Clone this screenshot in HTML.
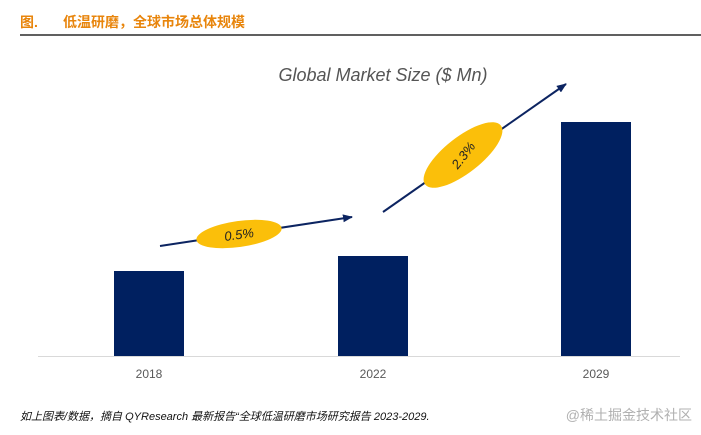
<!DOCTYPE html>
<html><head><meta charset="utf-8"><style>
body{margin:0;background:#fff;width:701px;height:430px;overflow:hidden;font-family:"Liberation Sans","Noto Sans CJK SC",sans-serif}
</style></head><body>
<svg width="701" height="430">
<text x="20" y="27" font-size="14" font-weight="bold" fill="#e8850c" font-family="Liberation Sans,Noto Sans CJK SC,sans-serif">图.</text>
<text x="63" y="27" font-size="14" font-weight="bold" fill="#e8850c" font-family="Liberation Sans,Noto Sans CJK SC,sans-serif">低温研磨，全球市场总体规模</text>
<line x1="20" y1="35" x2="701" y2="35" stroke="#000" stroke-width="1.2"/>
<text x="383" y="81" text-anchor="middle" font-size="18" fill="#555" font-style="italic" font-family="Liberation Sans,sans-serif">Global Market Size ($ Mn)</text>
<g id="bars"></g>
<line x1="38" y1="356.5" x2="680" y2="356.5" stroke="#d9d9d9"/>
<defs><marker id="ah" markerWidth="10" markerHeight="8" refX="9" refY="4" orient="auto" markerUnits="userSpaceOnUse"><path d="M0,0 L10,4 L0,8 Z" fill="#0c2461"/></marker></defs>
<line x1="160" y1="246" x2="352" y2="217" stroke="#0c2461" stroke-width="2" marker-end="url(#ah)"/>
<line x1="383" y1="212" x2="566" y2="84" stroke="#0c2461" stroke-width="2" marker-end="url(#ah)"/>
<ellipse cx="239" cy="234" rx="43" ry="13" transform="rotate(-8 239 234)" fill="#fbbf0a"/>
<text x="239" y="239" text-anchor="middle" font-size="13" fill="#222" font-style="italic" transform="rotate(-8 239 234)">0.5%</text>
<ellipse cx="463" cy="155" rx="48" ry="18" transform="rotate(-38 463 155)" fill="#fbbf0a"/>
<text x="463" y="160" text-anchor="middle" font-size="13" fill="#222" font-style="italic" transform="rotate(-52 463 155)">2.3%</text>
<text x="20" y="420" font-size="11" font-style="italic" fill="#111" font-family="Liberation Sans,Noto Sans CJK SC,sans-serif">如上图表/数据，摘自 QYResearch 最新报告“全球低温研磨市场研究报告 2023-2029.</text>
<text x="692" y="420" text-anchor="end" font-size="14" fill="#b0b0b0" font-family="Liberation Sans,Noto Sans CJK SC,sans-serif">@稀土掘金技术社区</text>
</svg>
<script>
const categories=["2018","2022","2029"];
const values=[85,100,234];
const ns="http://www.w3.org/2000/svg";
const g=document.getElementById("bars");
const centers=[149,373,596], base=356, scale=1, bw=70;
function y(v){return base-v*scale;}
categories.forEach((c,i)=>{
 const r=document.createElementNS(ns,"rect");
 r.setAttribute("x",centers[i]-bw/2);r.setAttribute("y",y(values[i]));
 r.setAttribute("width",bw);r.setAttribute("height",base-y(values[i]));
 r.setAttribute("fill","#002060");
 
 
 g.appendChild(r);
 const t=document.createElementNS(ns,"text");
 t.setAttribute("x",centers[i]);t.setAttribute("y",378);
 t.setAttribute("text-anchor","middle");t.setAttribute("font-size","12");t.setAttribute("fill","#595959");
 t.textContent=c;
 
 
 g.appendChild(t);
});
</script>
</body></html>
